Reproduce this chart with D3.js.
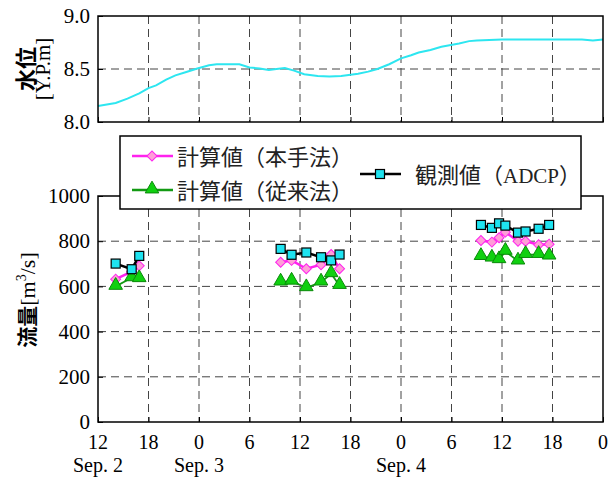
<!DOCTYPE html>
<html>
<head>
<meta charset="utf-8">
<script src="https://cdn.jsdelivr.net/npm/d3@7"></script>
<style>
  body { margin: 0; background: #fff; }
  svg { display: block; }
</style>
</head>
<body>
<svg id="chart" width="608" height="477"></svg>
<script>
// hours counted from Sep. 2 12:00
const levelHours = [0, 2.1, 3.5, 4.9, 6, 6.9, 8.1, 9.2, 10.4, 11.8, 13.2, 14.1, 16.8, 18, 19.2, 20.3, 21.2, 22.2, 23.3, 24.5, 26.1, 27.5, 28.9, 30.9, 32.1, 33.2, 34.6, 36, 37.2, 38.1, 39.5, 40.8, 42.9, 44.1, 45, 48, 57.5, 58.8, 60];
const levelValues = [8.15, 8.18, 8.22, 8.27, 8.32, 8.345, 8.40, 8.44, 8.47, 8.505, 8.535, 8.545, 8.545, 8.515, 8.505, 8.49, 8.50, 8.51, 8.485, 8.45, 8.434, 8.43, 8.434, 8.455, 8.475, 8.50, 8.545, 8.60, 8.63, 8.655, 8.68, 8.71, 8.74, 8.763, 8.77, 8.778, 8.778, 8.77, 8.778];

// three measurement campaigns
const flowHours = [
  [2.1, 4.0, 4.9],
  [21.7, 23.0, 24.75, 26.5, 27.7, 28.7],
  [45.5, 46.8, 47.65, 48.4, 49.9, 50.8, 52.35, 53.6]
];
const adcpFlow = [
  [701, 676, 735],
  [766, 740, 750, 729, 715, 741],
  [872, 859, 879, 869, 838, 843, 855, 872]
];
const newMethodFlow = [
  [632, 665, 691],
  [707, 715, 678, 696, 741, 678],
  [803, 796, 815, 840, 800, 800, 784, 787]
];
const oldMethodFlow = [
  [600, 638, 634],
  [619, 623, 594, 619, 656, 604],
  [732, 725, 718, 755, 712, 741, 741, 734]
];

const hourTicks = [0, 6, 12, 18, 24, 30, 36, 42, 48, 54, 60];
const hourLabels = ["12", "18", "0", "6", "12", "18", "0", "6", "12", "18", "0"];
const dateLabels = [{ h: 0, t: "Sep. 2" }, { h: 12, t: "Sep. 3" }, { h: 36, t: "Sep. 4" }];
const levelTicks = [8.0, 8.5, 9.0];
const flowTicks = [0, 200, 400, 600, 800, 1000];

const serif = "'Liberation Serif', 'Times New Roman', serif";
const cjk = "'Noto Sans CJK JP', sans-serif";

const svg = d3.select("#chart");

const left = 98, right = 603;
const top1 = { y0: 16, y1: 122 };
const top2 = { y0: 196, y1: 422 };

const x = d3.scaleLinear().domain([0, 60]).range([left, right]);
const yLevel = d3.scaleLinear().domain([8, 9]).range([top1.y1, top1.y0]);
const yFlow = d3.scaleLinear().domain([0, 1000]).range([top2.y1, top2.y0]);

function grid(g, yScale, yTicks, y0, y1) {
    g.selectAll(".vg")
        .data(hourTicks.slice(1, -1))
        .join("line")
        .attr("x1", d => x(d)).attr("x2", d => x(d))
        .attr("y1", y0).attr("y2", y1)
        .attr("stroke", "#444").attr("stroke-width", 1)
        .attr("stroke-dasharray", "8,5");
    g.selectAll(".hg")
        .data(yTicks.slice(1, -1))
        .join("line")
        .attr("x1", left).attr("x2", right)
        .attr("y1", d => yScale(d)).attr("y2", d => yScale(d))
        .attr("stroke", "#444").attr("stroke-width", 1)
        .attr("stroke-dasharray", "8,5");
}

function axes(g, yScale, yTicks, fmt, y0, y1) {
    g.append("g")
        .attr("transform", `translate(${left},0)`)
        .call(d3.axisLeft(yScale).tickValues(yTicks).tickFormat(fmt).tickSize(-5).tickPadding(8))
        .call(a => a.select(".domain").remove())
        .call(a => a.selectAll("text").attr("font-family", serif).attr("font-size", 21).attr("fill", "#000"));
    g.append("g")
        .attr("transform", `translate(0,${y1})`)
        .call(d3.axisBottom(x).tickValues(hourTicks).tickFormat("").tickSize(-5))
        .call(a => a.select(".domain").remove());
    g.append("rect")
        .attr("x", left).attr("y", y0)
        .attr("width", right - left).attr("height", y1 - y0)
        .attr("fill", "none").attr("stroke", "#000").attr("stroke-width", 1.5);
}

// water level panel
const p1 = svg.append("g");
grid(p1, yLevel, levelTicks, top1.y0, top1.y1);
p1.append("path")
    .datum(levelHours.map((h, i) => [h, levelValues[i]]))
    .attr("fill", "none")
    .attr("stroke", "#2de6f0")
    .attr("stroke-width", 2)
    .attr("d", d3.line().x(d => x(d[0])).y(d => yLevel(d[1])));
axes(p1, yLevel, levelTicks, d3.format(".1f"), top1.y0, top1.y1);

p1.append("text")
    .attr("transform", "translate(34,69) rotate(-90)")
    .attr("text-anchor", "middle")
    .attr("font-family", cjk).attr("font-weight", "bold").attr("font-size", 22)
    .text("水位");
p1.append("text")
    .attr("transform", "translate(50,69) rotate(-90)")
    .attr("text-anchor", "middle")
    .attr("font-family", serif).attr("font-size", 21)
    .text("[Y.P.m]");

// discharge panel
const p2 = svg.append("g");
grid(p2, yFlow, flowTicks, top2.y0, top2.y1);

const lineGen = d3.line().x(d => x(d[0])).y(d => yFlow(d[1]));
const pts = (vals) => flowHours.map((hs, k) => hs.map((h, i) => [h, vals[k][i]]));

const diamond = d3.symbol().type(d3.symbolSquare).size(50);
const tri = d3.symbol().type(d3.symbolTriangle).size(80);

// new method (magenta diamonds)
p2.selectAll(".nm").data(pts(newMethodFlow)).join("path")
    .attr("fill", "none").attr("stroke", "#ff22ee").attr("stroke-width", 2.5)
    .attr("d", lineGen);
p2.selectAll(".nmp").data(pts(newMethodFlow).flat()).join("path")
    .attr("transform", d => `translate(${x(d[0])},${yFlow(d[1])}) rotate(45)`)
    .attr("d", diamond)
    .attr("fill", "#ff9ed8").attr("stroke", "#ff22ee").attr("stroke-width", 1);

// conventional method (green triangles)
p2.selectAll(".om").data(pts(oldMethodFlow)).join("path")
    .attr("fill", "none").attr("stroke", "#139a13").attr("stroke-width", 1.8)
    .attr("d", lineGen);
p2.selectAll(".omp").data(pts(oldMethodFlow).flat()).join("path")
    .attr("transform", d => `translate(${x(d[0])},${yFlow(d[1]) - 1})`)
    .attr("d", tri)
    .attr("fill", "#10d010").attr("stroke", "#0a8a0a").attr("stroke-width", 1);

// ADCP observations (cyan squares)
p2.selectAll(".ad").data(pts(adcpFlow)).join("path")
    .attr("fill", "none").attr("stroke", "#000").attr("stroke-width", 2.5)
    .attr("d", lineGen);
p2.selectAll(".adp").data(pts(adcpFlow).flat()).join("rect")
    .attr("x", d => x(d[0]) - 4.5).attr("y", d => yFlow(d[1]) - 4.5)
    .attr("width", 9).attr("height", 9)
    .attr("fill", "#1ee3f0").attr("stroke", "#000").attr("stroke-width", 1.2);

axes(p2, yFlow, flowTicks, d3.format("d"), top2.y0, top2.y1);

const lab2 = p2.append("text")
    .attr("transform", "translate(35,300) rotate(-90)")
    .attr("text-anchor", "middle");
lab2.append("tspan").attr("font-family", cjk).attr("font-weight", "bold").attr("font-size", 21).text("流量");
lab2.append("tspan").attr("font-family", serif).attr("font-size", 22).text("[m");
lab2.append("tspan").attr("font-family", serif).attr("font-size", 14).attr("dy", -9).text("3");
lab2.append("tspan").attr("font-family", serif).attr("font-size", 22).attr("dy", 9).text("/s]");

// x axis labels
svg.append("g").selectAll("text")
    .data(hourTicks)
    .join("text")
    .attr("x", d => x(d)).attr("y", 449)
    .attr("text-anchor", "middle")
    .attr("font-family", serif).attr("font-size", 20)
    .text((d, i) => hourLabels[i]);
svg.append("g").selectAll("text")
    .data(dateLabels)
    .join("text")
    .attr("x", d => x(d.h)).attr("y", 472)
    .attr("text-anchor", "middle")
    .attr("font-family", serif).attr("font-size", 20)
    .text(d => d.t);

// legend
const lg = svg.append("g");
lg.append("rect")
    .attr("x", 120).attr("y", 136).attr("width", 461).attr("height", 73)
    .attr("fill", "#fff").attr("stroke", "#000").attr("stroke-width", 1.5);

const legendItems = [
    { x: 132, y: 156, label: "計算値（本手法）", kind: "nm" },
    { x: 132, y: 190, label: "計算値（従来法）", kind: "om" },
    { x: 360, y: 174, label: "観測値（", kind: "ad" }
];
legendItems.forEach(it => {
    const stroke = it.kind === "nm" ? "#ff22ee" : it.kind === "om" ? "#139a13" : "#000";
    lg.append("line")
        .attr("x1", it.x).attr("x2", it.x + 41).attr("y1", it.y).attr("y2", it.y)
        .attr("stroke", stroke).attr("stroke-width", 2.5);
    const cx = it.x + 20;
    if (it.kind === "nm") {
        lg.append("path").attr("transform", `translate(${cx},${it.y}) rotate(45)`)
            .attr("d", diamond)
            .attr("fill", "#ff9ed8").attr("stroke", "#ff22ee");
    } else if (it.kind === "om") {
        lg.append("path").attr("transform", `translate(${cx},${it.y - 1})`)
            .attr("d", tri).attr("fill", "#10d010").attr("stroke", "#0a8a0a");
    } else {
        lg.append("rect").attr("x", cx - 4.5).attr("y", it.y - 4.5).attr("width", 9).attr("height", 9)
            .attr("fill", "#1ee3f0").attr("stroke", "#000").attr("stroke-width", 1.2);
    }
    const t = lg.append("text")
        .attr("x", it.kind === "ad" ? 415 : 177).attr("y", it.y + 9)
        .attr("fill", "#222")
        .attr("font-family", cjk).attr("font-size", 22);
    t.append("tspan").text(it.label);
    if (it.kind === "ad") {
        t.append("tspan").attr("font-family", serif).attr("font-size", 21).text("ADCP");
        t.append("tspan").text("）");
    }
});
</script>
</body>
</html>
